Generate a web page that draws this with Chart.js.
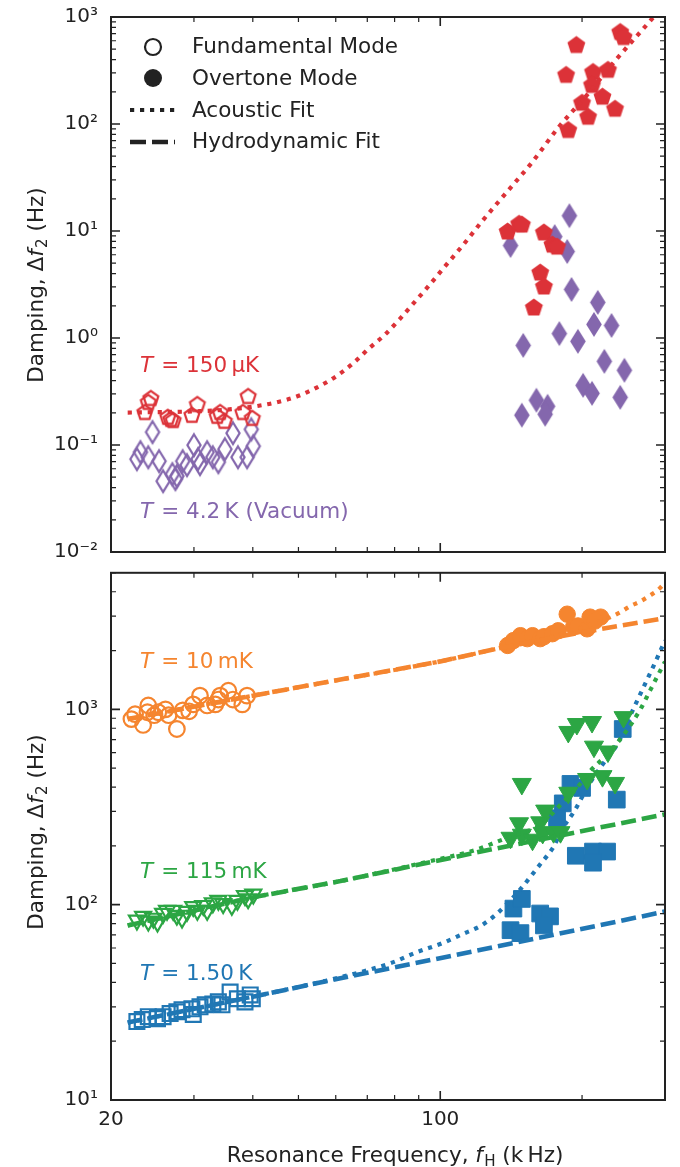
<!DOCTYPE html>
<html>
<head>
<meta charset="utf-8">
<script src="https://cdn.jsdelivr.net/npm/chart.js@4.4.1/dist/chart.umd.min.js"></script>
<style>
  html, body { margin:0; padding:0; background:#ffffff; }
  #wrap { position:relative; width:680px; height:1167px; overflow:hidden; background:#fff; }
  canvas { position:absolute; left:0; }
  #topChart { top:0; }
  #botChart { top:560px; }
</style>
</head>
<body>
<div id="wrap">
  <canvas id="topChart" width="680" height="560" style="width:680px;height:560px"></canvas>
  <canvas id="botChart" width="680" height="607" style="width:680px;height:607px"></canvas>
</div>
<script>
// ---------------- axis ranges and tick labels ----------------
const xMin = 20, xMax = 300;
const topYMin = 0.01, topYMax = 1000;
const botYMin = 10, botYMax = 5000;
const xTickLabels = [20, 100];
const topYTickLabels = [0.01, 0.1, 1, 10, 100, 1000];
const botYTickLabels = [10, 100, 1000];

// ---------------- top panel data: [frequency kHz, damping Hz] ----------------
const fund150uK = [[24.3,0.273],[24.0,0.251],[23.6,0.202],[26.4,0.182],[26.8,0.174],[27.1,0.170],[30.5,0.240],[29.7,0.190],[34.1,0.202],[34.8,0.167],[33.6,0.186],[39.1,0.285],[38.1,0.202],[39.9,0.178]];
const over150uK = [[241,725],[245,650],[194.5,548],[185,288],[211,307],[227,321],[210,232],[221,180],[200,158],[235,139],[206,117],[187,88],[139,9.9],[147,11.7],[149,11.5],[166,9.7],[173,7.46],[177,7.15],[163,4.09],[166,3.03],[158,1.93]];
const fund4K = [[24.5,0.132],[23.1,0.0857],[22.7,0.0737],[24.0,0.0769],[25.3,0.0706],[25.8,0.0459],[27.0,0.0534],[27.4,0.048],[27.6,0.0512],[28.4,0.0706],[29.0,0.0648],[30.0,0.0996],[30.6,0.0737],[30.9,0.0662],[32.0,0.0857],[32.9,0.0769],[33.8,0.0691],[34.9,0.0914],[36.3,0.129],[37.2,0.0769],[38.9,0.0769],[39.7,0.140],[40.1,0.0975]];
const over4K = [[188,13.9],[141,7.31],[175,8.87],[186,6.43],[190,2.84],[216,2.15],[212,1.34],[231,1.31],[179,1.10],[196,0.93],[150,0.853],[223,0.605],[246,0.499],[201,0.361],[210,0.304],[241,0.279],[160,0.262],[169,0.230],[167,0.194],[149,0.190]];
const acoustic150uK = [[21.7,0.201],[30.9,0.207],[36,0.216],[40.5,0.230],[45.0,0.251],[49.7,0.285],[54.8,0.346],[60.1,0.438],[65.3,0.58],[70.6,0.80],[76.4,1.08],[82.2,1.52],[88.1,2.15],[94.3,3.03],[101,4.36],[112,7.47],[123,12.5],[137,21.9],[157,44.4],[178,92.3],[205,187],[234,380],[279,918],[300,1320]];

// ---------------- bottom panel data ----------------
const fund10mK = [[22.1,891],[22.5,944],[23.4,832],[24.0,1047],[23.9,966],[24.7,933],[25.2,966],[26.1,1000],[26.5,933],[27.6,793],[28.4,988],[29.3,977],[29.9,1060],[30.9,1175],[32.0,1047],[33.3,1060],[33.8,1122],[34.1,1175],[35.5,1245],[36.3,1122],[38.0,1060],[38.9,1175]];
const over10mK = [[139,2123],[143,2249],[148,2383],[153,2300],[157,2383],[163,2300],[166,2355],[173,2438],[178,2525],[186,3070],[192,2643],[196,2673],[205,2583],[208,2966],[219,2966],[213,2831]];
const hydro10mK = [[21.7,891],[40,1175],[61.4,1420],[100,1760],[134,2060],[200,2480],[300,2930]];
const acoustic10mK = [[21.7,891],[40,1175],[61.4,1420],[100,1760],[134,2060],[170,2330],[200,2620],[230,2966],[241,3140],[253,3370],[266,3570],[277,3790],[289,4060],[300,4450]];

const fund115mK = [[22.7,83.2],[23.4,87.1],[24.0,82.2],[24.6,85.1],[25.1,81.3],[25.8,90.1],[26.3,93.3],[27.1,93.3],[27.6,88.1],[28.3,85.1],[29.0,92.2],[29.9,97.7],[30.5,93.3],[31.4,98.9],[32.0,93.3],[32.9,102],[33.8,105],[34.6,101],[36.1,98.9],[37.1,105],[38.5,111],[40.1,113],[39.1,107]];
const over115mK = [[187,766],[195,841],[210,861],[212,644],[227,608],[245,912],[149,415],[205,440],[221,455],[235,420],[187,374],[167,303],[147,261],[163,264],[141,220],[149,228],[157,215],[165,233],[174,235],[180,235]];
const hydro115mK = [[21.7,78.3],[40.8,110],[61.4,132],[122,187],[300,290]];
const acoustic115mK = [[21.7,78.3],[40.8,110],[61.4,132],[91,163],[120,192],[132,210],[146,230],[163,255],[180,325],[195,396],[208,482],[226,587],[245,740],[266,1000],[279,1250],[296,1650],[300,1750]];

const fund1500mK = [[22.7,25.2],[23.3,25.8],[24.0,26.7],[25.1,26.1],[25.8,26.7],[26.7,27.7],[27.6,28.3],[28.3,29.0],[29.7,29.3],[29.9,27.4],[30.9,30.0],[31.7,30.7],[32.9,31.0],[33.8,31.8],[34.4,30.7],[35.8,35.7],[37.1,33.0],[38.5,31.8],[39.5,34.5],[39.9,33.0]];
const over1500mK = [[244,793],[189,415],[200,396],[182,330],[177,277],[237,345],[194,178],[211,187],[226,187],[211,164],[143,95.5],[149,107],[141,74.0],[148,71.5],[163,90.1],[171,87.1],[166,78.3]];
const hydro1500mK = [[21.7,24.9],[40,33.8],[61.4,42.0],[122,58.7],[300,92.2]];
const acoustic1500mK = [[21.7,24.9],[40,33.8],[61.4,42.5],[79,50.5],[89,57],[101,63.5],[112,71],[122,78],[132,90],[138,100],[148,120],[163,161],[174,198],[182,246],[193,304],[206,405],[222,529],[238,667],[251,887],[269,1270],[285,1710],[300,2249]];

// ---------------- styling ----------------
const C = { red:'#dc3238', purple:'#8467ad', orange:'#f5852f', green:'#2ca644', blue:'#2077b4', ink:'#222222' };
const FONT = '"DejaVu Sans", "Liberation Sans", sans-serif';
const TXT = 21.5;
const DOT = [4.2, 5.8];
const DASH = [15, 6];

function pts(a) { return a.map(p => ({ x: p[0], y: p[1] })); }

function pentagon(R, color, filled, lw) {
  const s = Math.ceil(2 * R + 2 * lw + 4);
  const c = document.createElement('canvas'); c.width = s; c.height = s;
  const g = c.getContext('2d'); const cx = s / 2, cy = s / 2 + R * 0.05;
  g.beginPath();
  for (let i = 0; i < 5; i++) {
    const a = -Math.PI / 2 + i * 2 * Math.PI / 5;
    const px = cx + R * Math.cos(a), py = cy + R * Math.sin(a);
    if (i) g.lineTo(px, py); else g.moveTo(px, py);
  }
  g.closePath();
  if (filled) { g.fillStyle = color; g.fill(); }
  else { g.strokeStyle = color; g.lineWidth = lw; g.lineJoin = 'miter'; g.stroke(); }
  return c;
}
function thinDiamond(hw, hh, color, filled, lw) {
  const w = Math.ceil(2 * hw + 2 * lw + 4), h = Math.ceil(2 * hh + 2 * lw + 4);
  const c = document.createElement('canvas'); c.width = w; c.height = h;
  const g = c.getContext('2d'); const cx = w / 2, cy = h / 2;
  g.beginPath();
  g.moveTo(cx, cy - hh); g.lineTo(cx + hw, cy); g.lineTo(cx, cy + hh); g.lineTo(cx - hw, cy);
  g.closePath();
  if (filled) { g.fillStyle = color; g.fill(); }
  else { g.strokeStyle = color; g.lineWidth = lw; g.lineJoin = 'miter'; g.miterLimit = 4; g.stroke(); }
  return c;
}

const SUP = { '-': '\u207B', '0': '\u2070', '1': '\u00B9', '2': '\u00B2', '3': '\u00B3', '4': '\u2074', '5': '\u2075', '6': '\u2076', '7': '\u2077', '8': '\u2078', '9': '\u2079' };
function powLabel(v) { const e = Math.round(Math.log10(v)); return '10' + String(e).split('').map(ch => SUP[ch]).join(''); }

function logTickValues(min, max) {
  const out = [];
  for (let e = Math.floor(Math.log10(min)); e <= Math.ceil(Math.log10(max)); e++) {
    for (let k = 1; k < 10; k++) {
      const v = k * Math.pow(10, e);
      if (v >= min * 0.999 && v <= max * 1.001) out.push({ v, major: k === 1 });
    }
  }
  return out;
}

function drawFrameAndTicks(chart) {
  const { ctx, chartArea: a } = chart; const xs = chart.scales.x, ys = chart.scales.y;
  ctx.save(); ctx.strokeStyle = C.ink; ctx.lineCap = 'butt';
  for (const t of logTickValues(xs.min, xs.max)) {
    const px = xs.getPixelForValue(t.v); const L = t.major ? 9 : 5;
    ctx.lineWidth = t.major ? 1.6 : 1.2;
    ctx.beginPath();
    ctx.moveTo(px, a.bottom); ctx.lineTo(px, a.bottom - L);
    ctx.moveTo(px, a.top); ctx.lineTo(px, a.top + L);
    ctx.stroke();
  }
  for (const t of logTickValues(ys.min, ys.max)) {
    const py = ys.getPixelForValue(t.v); const L = t.major ? 9 : 5;
    ctx.lineWidth = t.major ? 1.6 : 1.2;
    ctx.beginPath();
    ctx.moveTo(a.left, py); ctx.lineTo(a.left + L, py);
    ctx.moveTo(a.right, py); ctx.lineTo(a.right - L, py);
    ctx.stroke();
  }
  ctx.lineWidth = 2;
  ctx.strokeRect(a.left, a.top, a.right - a.left, a.bottom - a.top);
  ctx.restore();
}

function fontFor(kind, size) {
  if (kind === 'i') return 'italic ' + size + 'px ' + FONT;
  if (kind === 'sub') return Math.round(size * 0.7 * 10) / 10 + 'px ' + FONT;
  return size + 'px ' + FONT;
}
function drawRich(ctx, segs, x, y, size, color, align) {
  let total = 0;
  const parts = segs.map(s => { ctx.font = fontFor(s.k, size); const w = ctx.measureText(s.t).width + (s.k === 'i' ? size * 0.06 : 0); total += w; return { s, w }; });
  let cx = align === 'center' ? x - total / 2 : x;
  ctx.fillStyle = color; ctx.textBaseline = 'alphabetic'; ctx.textAlign = 'left';
  for (const p of parts) {
    ctx.font = fontFor(p.s.k, size);
    ctx.fillText(p.s.t, cx, y + (p.s.k === 'sub' ? size * 0.2 : 0));
    cx += p.w;
  }
}
function tempLabel(ctx, rest, x, y, color) {
  drawRich(ctx, [{ t: 'T', k: 'i' }, { t: rest, k: 'n' }], x, y, TXT, color, 'left');
}
function yTitle(ctx, cx, cy) {
  ctx.save(); ctx.translate(cx, cy); ctx.rotate(-Math.PI / 2);
  drawRich(ctx, [{ t: 'Damping, \u0394', k: 'n' }, { t: 'f', k: 'i' }, { t: '2', k: 'sub' }, { t: ' (Hz)', k: 'n' }], 0, 0, TXT, C.ink, 'center');
  ctx.restore();
}

function scaleOpts(yMin, yMax, yLabels, showX, xH) {
  return {
    x: {
      type: 'logarithmic', min: xMin, max: xMax, position: 'bottom',
      grid: { display: false, drawTicks: false }, border: { display: false },
      ticks: { display: showX, autoSkip: false, maxRotation: 0, minRotation: 0, padding: 8, color: C.ink,
        font: { family: FONT, size: 20 }, callback: v => String(Math.round(v)) },
      afterBuildTicks: s => { s.ticks = xTickLabels.map(v => ({ value: v })); },
      afterFit: s => { s.height = xH; s.paddingLeft = 0; s.paddingRight = 0; }
    },
    y: {
      type: 'logarithmic', min: yMin, max: yMax, position: 'left',
      grid: { display: false, drawTicks: false }, border: { display: false },
      ticks: { autoSkip: false, padding: 13, color: C.ink, font: { family: FONT, size: 20 }, callback: v => powLabel(v) },
      afterBuildTicks: s => { s.ticks = yLabels.map(v => ({ value: v })); },
      afterFit: s => { s.width = 111; s.paddingTop = 0; s.paddingBottom = 0; }
    }
  };
}

function dotted(data, color) {
  return { data: pts(data), showLine: true, borderColor: color, borderWidth: 4.2, borderDash: DOT,
    pointRadius: 0, fill: false, cubicInterpolationMode: 'monotone', clip: 0 };
}
function dashed(data, color) {
  return { data: pts(data), showLine: true, borderColor: color, borderWidth: 4.6, borderDash: DASH,
    pointRadius: 0, fill: false, clip: 0 };
}
function markers(data, style, radius, fillColor, strokeColor, bw, rot) {
  return { data: pts(data), showLine: false, pointStyle: style, pointRadius: radius, pointRotation: rot || 0,
    backgroundColor: fillColor, borderColor: strokeColor, borderWidth: bw };
}

const pentFilled = pentagon(9.4, C.red, true, 0);
const pentOpen = pentagon(7.8, C.red, false, 2.2);
const diaFilled = thinDiamond(7.8, 12.5, C.purple, true, 0);
const diaOpen = thinDiamond(6.6, 10.8, C.purple, false, 2.2);
const NONE = 'rgba(0,0,0,0)';

const topDeco = {
  id: 'topDeco',
  afterDraw(chart) {
    const ctx = chart.ctx;
    drawFrameAndTicks(chart);
    yTitle(ctx, 43, 285);
    tempLabel(ctx, ' = 150\u2009\u00B5K', 140, 372, C.red);
    tempLabel(ctx, ' = 4.2\u2009K (Vacuum)', 140, 518, C.purple);
    // legend
    ctx.save();
    ctx.strokeStyle = C.ink; ctx.fillStyle = C.ink;
    ctx.lineWidth = 2.2; ctx.beginPath(); ctx.arc(153, 47, 8, 0, Math.PI * 2); ctx.stroke();
    ctx.beginPath(); ctx.arc(153, 78, 9, 0, Math.PI * 2); ctx.fill();
    ctx.lineWidth = 4.2; ctx.setLineDash(DOT);
    ctx.beginPath(); ctx.moveTo(130, 110); ctx.lineTo(175, 110); ctx.stroke();
    ctx.lineWidth = 4.6; ctx.setLineDash([16, 6]);
    ctx.beginPath(); ctx.moveTo(130, 142); ctx.lineTo(175, 142); ctx.stroke();
    ctx.setLineDash([]);
    ctx.restore();
    drawRich(ctx, [{ t: 'Fundamental Mode', k: 'n' }], 192, 53, TXT, C.ink, 'left');
    drawRich(ctx, [{ t: 'Overtone Mode', k: 'n' }], 192, 85, TXT, C.ink, 'left');
    drawRich(ctx, [{ t: 'Acoustic Fit', k: 'n' }], 192, 117, TXT, C.ink, 'left');
    drawRich(ctx, [{ t: 'Hydrodynamic Fit', k: 'n' }], 192, 148, TXT, C.ink, 'left');
  }
};

const botDeco = {
  id: 'botDeco',
  afterDraw(chart) {
    const ctx = chart.ctx;
    drawFrameAndTicks(chart);
    yTitle(ctx, 43, 272);
    tempLabel(ctx, ' = 10\u2009mK', 140, 108, C.orange);
    tempLabel(ctx, ' = 115\u2009mK', 140, 318, C.green);
    tempLabel(ctx, ' = 1.50\u2009K', 140, 420, C.blue);
    drawRich(ctx, [{ t: 'Resonance Frequency, ', k: 'n' }, { t: 'f', k: 'i' }, { t: 'H', k: 'sub' }, { t: ' (k\u2009Hz)', k: 'n' }],
      395, 602, TXT, C.ink, 'center');
  }
};

const common = {
  responsive: false, animation: false, events: [],
  plugins: { legend: { display: false }, tooltip: { enabled: false } }
};

new Chart(document.getElementById('topChart'), {
  type: 'scatter',
  data: { datasets: [
    dotted(acoustic150uK, C.red),
    markers(over150uK, pentFilled, 8, C.red, C.red, 0),
    markers(over4K, diaFilled, 8, C.purple, C.purple, 0),
    markers(fund150uK, pentOpen, 8, NONE, C.red, 0),
    markers(fund4K, diaOpen, 8, NONE, C.purple, 0)
  ] },
  options: Object.assign({}, common, {
    layout: { padding: { top: 17, right: 15, left: 0, bottom: 0 } },
    scales: scaleOpts(topYMin, topYMax, topYTickLabels, false, 7)
  }),
  plugins: [topDeco]
});

new Chart(document.getElementById('botChart'), {
  type: 'scatter',
  data: { datasets: [
    dashed(hydro10mK, C.orange),
    dotted(acoustic10mK, C.orange),
    markers(over10mK, 'circle', 8.2, C.orange, C.orange, 1),
    markers(fund10mK, 'circle', 7.8, NONE, C.orange, 2.2),
    dashed(hydro115mK, C.green),
    dotted(acoustic115mK, C.green),
    markers(over115mK, 'triangle', 11, C.green, C.green, 1, 180),
    markers(fund115mK, 'triangle', 9.2, NONE, C.green, 2.2, 180),
    dashed(hydro1500mK, C.blue),
    dotted(acoustic1500mK, C.blue),
    markers(over1500mK, 'rect', 11.8, C.blue, C.blue, 1),
    markers(fund1500mK, 'rect', 10.5, NONE, C.blue, 2.2)
  ] },
  options: Object.assign({}, common, {
    layout: { padding: { top: 4, right: 15, left: 0, bottom: 0 } },
    scales: scaleOpts(botYMin, botYMax, botYTickLabels, true, 67)
  }),
  plugins: [botDeco]
});
</script>
</body>
</html>
